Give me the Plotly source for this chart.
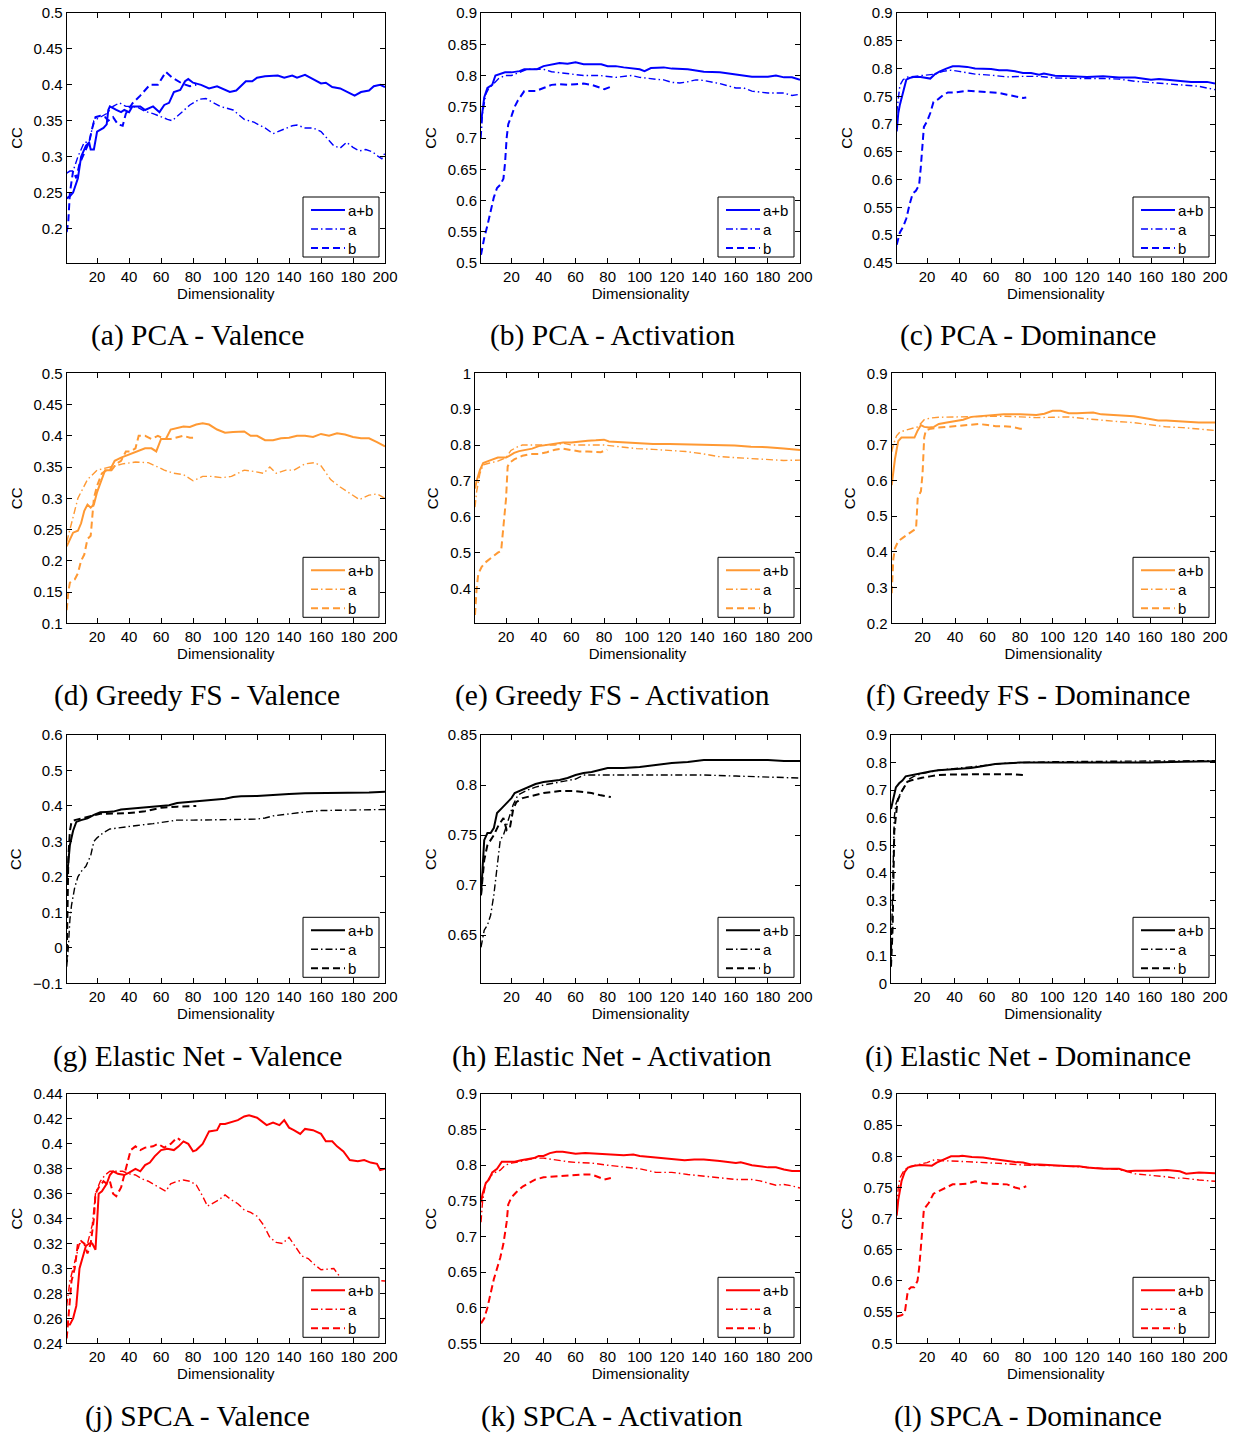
import plotly.graph_objects as go

# ---------------------------------------------------------------------------
# Correlation coefficient (CC) versus dimensionality, (dimensionality, CC)
# pairs for three feature sets: a+b (combined), a, and b.
# ---------------------------------------------------------------------------

# (a) PCA - Valence
pca_val_ab = [(1,0.242),(3,0.245),(5,0.25),(8,0.27),(10,0.30),(13,0.315),(15,0.32),(16,0.31),(18,0.31),(20,0.335),(24,0.34),(26,0.345),(27,0.365),(28,0.37),(32,0.365),(35,0.362),(37,0.365),(40,0.362),(42,0.37),(47,0.37),(50,0.365),(55,0.37),(59,0.362),(62,0.372),(65,0.375),(68,0.39),(72,0.393),(75,0.405),(77,0.408),(80,0.403),(85,0.40),(90,0.395),(95,0.398),(100,0.393),(103,0.39),(107,0.392),(110,0.398),(113,0.405),(117,0.405),(120,0.41),(125,0.412),(130,0.413),(133,0.413),(137,0.41),(142,0.413),(145,0.41),(150,0.414),(155,0.408),(160,0.402),(163,0.403),(167,0.397),(172,0.395),(177,0.39),(181,0.385),(185,0.39),(190,0.392),(193,0.398),(197,0.40),(200,0.397)]
pca_val_a = [(1,0.277),(3,0.28),(5,0.28),(8,0.30),(12,0.32),(15,0.32),(18,0.35),(22,0.355),(26,0.36),(30,0.37),(34,0.375),(38,0.37),(42,0.37),(46,0.368),(50,0.363),(55,0.36),(60,0.355),(64,0.352),(67,0.35),(72,0.36),(78,0.372),(84,0.38),(88,0.381),(92,0.376),(97,0.37),(105,0.365),(112,0.352),(118,0.348),(125,0.34),(130,0.332),(135,0.337),(142,0.343),(145,0.344),(150,0.34),(155,0.34),(160,0.335),(164,0.325),(168,0.315),(172,0.312),(176,0.32),(180,0.313),(184,0.308),(188,0.31),(192,0.307),(196,0.30),(198,0.297),(200,0.305)]
pca_val_b = [(1,0.195),(2,0.21),(3,0.25),(5,0.28),(7,0.27),(9,0.29),(11,0.30),(13,0.31),(15,0.32),(17,0.34),(19,0.355),(22,0.357),(25,0.355),(27,0.35),(30,0.355),(33,0.345),(36,0.343),(38,0.36),(42,0.374),(47,0.385),(53,0.40),(58,0.40),(63,0.418),(67,0.41),(73,0.402),(78,0.398),(82,0.40)]

# (b) PCA - Activation
pca_act_ab = [(1,0.724),(2,0.745),(3,0.765),(5,0.78),(8,0.785),(10,0.80),(13,0.803),(16,0.805),(20,0.805),(25,0.807),(28,0.81),(32,0.81),(36,0.81),(40,0.815),(45,0.817),(50,0.82),(55,0.819),(60,0.821),(65,0.818),(70,0.818),(76,0.818),(80,0.815),(85,0.815),(90,0.813),(95,0.812),(100,0.81),(103,0.807),(107,0.812),(115,0.813),(120,0.811),(130,0.81),(140,0.806),(150,0.805),(160,0.802),(165,0.80),(170,0.798),(180,0.798),(185,0.80),(190,0.797),(195,0.797),(200,0.793)]
pca_act_a = [(1,0.70),(2,0.74),(4,0.77),(6,0.78),(9,0.787),(12,0.795),(16,0.80),(20,0.80),(25,0.805),(30,0.81),(35,0.81),(40,0.81),(45,0.806),(55,0.803),(65,0.80),(75,0.80),(85,0.797),(95,0.80),(100,0.797),(110,0.794),(115,0.793),(120,0.789),(125,0.788),(130,0.79),(135,0.793),(140,0.792),(150,0.787),(160,0.78),(165,0.78),(170,0.775),(180,0.772),(190,0.772),(195,0.768),(200,0.77)]
pca_act_b = [(1,0.513),(3,0.54),(5,0.56),(7,0.585),(9,0.605),(11,0.62),(13,0.625),(15,0.635),(16,0.66),(17,0.70),(18,0.722),(20,0.735),(22,0.75),(24,0.76),(26,0.768),(28,0.775),(32,0.775),(35,0.775),(40,0.78),(45,0.785),(50,0.786),(55,0.785),(60,0.786),(65,0.787),(70,0.785),(75,0.78),(78,0.778),(82,0.782)]

# (c) PCA - Dominance
pca_dom_ab = [(1,0.687),(2,0.72),(3,0.735),(5,0.76),(7,0.78),(9,0.783),(12,0.785),(16,0.785),(20,0.783),(22,0.782),(25,0.79),(28,0.795),(32,0.80),(36,0.804),(40,0.804),(45,0.803),(50,0.80),(55,0.80),(60,0.799),(65,0.797),(70,0.797),(75,0.795),(80,0.792),(85,0.792),(90,0.789),(93,0.791),(100,0.787),(110,0.786),(120,0.785),(130,0.786),(140,0.784),(150,0.784),(160,0.78),(165,0.781),(170,0.78),(180,0.778),(185,0.776),(195,0.776),(200,0.773)]
pca_dom_a = [(1,0.72),(2,0.75),(3,0.77),(5,0.78),(8,0.785),(12,0.786),(16,0.787),(20,0.788),(25,0.79),(30,0.795),(35,0.797),(40,0.795),(50,0.79),(60,0.788),(65,0.786),(70,0.785),(80,0.786),(90,0.786),(100,0.783),(110,0.782),(120,0.782),(130,0.782),(140,0.781),(150,0.777),(160,0.775),(170,0.772),(180,0.77),(190,0.768),(200,0.762)]
pca_dom_b = [(1,0.483),(3,0.505),(5,0.515),(7,0.53),(9,0.555),(11,0.575),(13,0.58),(15,0.59),(16,0.62),(17,0.66),(18,0.695),(20,0.705),(22,0.72),(24,0.74),(27,0.745),(30,0.752),(33,0.757),(38,0.757),(45,0.76),(50,0.759),(55,0.758),(60,0.757),(65,0.756),(70,0.753),(75,0.75),(80,0.747),(82,0.748)]

# (d) Greedy FS - Valence
gfs_val_ab = [(1,0.223),(3,0.235),(5,0.245),(8,0.248),(10,0.26),(12,0.28),(14,0.29),(16,0.285),(18,0.29),(20,0.31),(22,0.325),(25,0.345),(28,0.345),(31,0.36),(35,0.365),(40,0.37),(45,0.375),(50,0.38),(54,0.38),(57,0.375),(60,0.395),(63,0.395),(66,0.41),(70,0.412),(74,0.415),(78,0.414),(82,0.418),(86,0.42),(90,0.418),(95,0.41),(100,0.405),(105,0.406),(112,0.407),(116,0.40),(120,0.40),(125,0.393),(130,0.393),(135,0.396),(140,0.397),(145,0.40),(150,0.40),(155,0.398),(160,0.403),(165,0.40),(170,0.404),(175,0.402),(180,0.398),(185,0.396),(190,0.396),(195,0.39),(200,0.383)]
gfs_val_a = [(1,0.23),(3,0.25),(5,0.27),(8,0.30),(11,0.315),(14,0.33),(20,0.345),(28,0.35),(36,0.355),(44,0.358),(52,0.357),(58,0.35),(62,0.345),(68,0.34),(74,0.338),(80,0.328),(86,0.335),(92,0.335),(98,0.333),(104,0.335),(112,0.345),(118,0.343),(124,0.34),(128,0.35),(132,0.34),(138,0.345),(143,0.345),(150,0.355),(156,0.357),(160,0.352),(166,0.33),(172,0.318),(180,0.305),(184,0.298),(190,0.305),(195,0.307),(200,0.30)]
gfs_val_b = [(1,0.121),(2,0.15),(3,0.165),(6,0.17),(8,0.18),(10,0.20),(12,0.21),(14,0.235),(16,0.24),(17,0.27),(18,0.30),(20,0.32),(23,0.34),(26,0.345),(29,0.345),(32,0.355),(35,0.36),(38,0.375),(41,0.375),(44,0.38),(46,0.40),(50,0.40),(54,0.395),(58,0.40),(62,0.395),(66,0.395),(70,0.397),(74,0.40),(78,0.397),(82,0.397)]

# (e) Greedy FS - Activation
gfs_act_ab = [(1,0.679),(2,0.70),(4,0.73),(6,0.75),(9,0.755),(12,0.76),(15,0.765),(18,0.765),(20,0.765),(22,0.77),(25,0.778),(28,0.783),(32,0.787),(36,0.79),(40,0.797),(45,0.80),(50,0.803),(55,0.807),(60,0.807),(65,0.81),(70,0.812),(75,0.813),(80,0.815),(83,0.81),(90,0.808),(100,0.805),(110,0.803),(120,0.803),(130,0.802),(140,0.802),(150,0.80),(160,0.799),(170,0.795),(180,0.794),(190,0.79),(200,0.786)]
gfs_act_a = [(1,0.627),(2,0.67),(4,0.72),(6,0.745),(10,0.75),(15,0.755),(20,0.765),(23,0.785),(27,0.795),(30,0.80),(35,0.80),(40,0.80),(50,0.80),(55,0.805),(60,0.80),(70,0.80),(80,0.80),(90,0.795),(100,0.79),(110,0.788),(120,0.785),(130,0.782),(140,0.776),(150,0.768),(160,0.765),(170,0.762),(180,0.758),(190,0.757),(200,0.758)]
gfs_act_b = [(1,0.326),(2,0.40),(3,0.44),(5,0.46),(8,0.475),(12,0.49),(15,0.50),(17,0.505),(18,0.55),(19,0.60),(20,0.65),(21,0.74),(22,0.75),(25,0.76),(30,0.77),(35,0.775),(40,0.775),(45,0.78),(50,0.787),(55,0.79),(60,0.785),(65,0.782),(70,0.782),(75,0.78),(78,0.78),(82,0.787)]

# (f) Greedy FS - Dominance
gfs_dom_ab = [(1,0.587),(2,0.62),(3,0.66),(5,0.71),(7,0.72),(10,0.72),(13,0.72),(15,0.72),(17,0.74),(19,0.755),(21,0.75),(24,0.748),(27,0.75),(30,0.758),(35,0.762),(40,0.765),(45,0.77),(50,0.778),(55,0.78),(60,0.782),(65,0.785),(70,0.785),(80,0.785),(90,0.783),(95,0.787),(100,0.795),(105,0.795),(110,0.788),(115,0.788),(120,0.79),(125,0.79),(130,0.785),(140,0.783),(150,0.78),(160,0.772),(165,0.768),(170,0.768),(180,0.765),(190,0.762),(200,0.762)]
gfs_dom_a = [(1,0.68),(2,0.70),(4,0.725),(6,0.735),(9,0.74),(13,0.745),(17,0.75),(21,0.77),(25,0.775),(30,0.777),(40,0.778),(50,0.778),(60,0.78),(70,0.78),(80,0.778),(90,0.776),(100,0.777),(110,0.778),(120,0.773),(130,0.768),(140,0.765),(150,0.762),(160,0.757),(170,0.75),(180,0.748),(190,0.745),(200,0.74)]
gfs_dom_b = [(1,0.284),(2,0.38),(3,0.41),(5,0.43),(8,0.44),(11,0.45),(14,0.46),(16,0.465),(17,0.55),(19,0.57),(20,0.62),(21,0.72),(22,0.74),(25,0.745),(30,0.748),(35,0.75),(40,0.752),(45,0.755),(50,0.757),(55,0.758),(60,0.755),(65,0.752),(70,0.752),(75,0.75),(80,0.745),(82,0.745)]

# (g) Elastic Net - Valence
en_val_ab = [(1,0.191),(2,0.25),(3,0.29),(5,0.33),(7,0.355),(10,0.36),(14,0.365),(18,0.375),(22,0.382),(26,0.383),(30,0.384),(35,0.39),(40,0.392),(50,0.395),(55,0.398),(60,0.40),(65,0.402),(70,0.408),(80,0.412),(90,0.415),(100,0.42),(105,0.425),(110,0.427),(120,0.428),(130,0.432),(140,0.434),(150,0.436),(160,0.436),(170,0.437),(180,0.438),(190,0.438),(200,0.44)]
en_val_a = [(1,-0.053),(2,0.0),(3,0.08),(4,0.12),(6,0.17),(8,0.20),(10,0.215),(13,0.23),(16,0.26),(18,0.30),(20,0.31),(24,0.325),(28,0.335),(35,0.34),(45,0.345),(55,0.35),(60,0.353),(65,0.357),(70,0.36),(80,0.36),(90,0.36),(100,0.36),(110,0.362),(120,0.363),(125,0.366),(130,0.372),(140,0.378),(150,0.383),(160,0.387),(170,0.388),(180,0.39),(190,0.39),(200,0.39)]
en_val_b = [(1,-0.04),(2,0.25),(3,0.33),(4,0.355),(6,0.36),(10,0.365),(14,0.37),(18,0.375),(22,0.378),(26,0.378),(30,0.378),(40,0.38),(50,0.385),(55,0.39),(60,0.395),(70,0.398),(80,0.40),(82,0.40)]

# (h) Elastic Net - Activation
en_act_ab = [(1,0.69),(2,0.72),(3,0.745),(5,0.752),(7,0.752),(9,0.757),(11,0.772),(14,0.777),(17,0.782),(20,0.787),(22,0.792),(26,0.795),(30,0.798),(35,0.801),(40,0.803),(45,0.804),(50,0.805),(55,0.807),(60,0.81),(65,0.812),(70,0.813),(75,0.815),(80,0.817),(90,0.817),(100,0.818),(110,0.82),(120,0.822),(130,0.823),(140,0.825),(150,0.825),(160,0.825),(170,0.825),(180,0.825),(190,0.824),(200,0.824)]
en_act_a = [(1,0.638),(3,0.655),(5,0.66),(7,0.67),(9,0.69),(11,0.72),(13,0.745),(15,0.75),(17,0.76),(19,0.77),(21,0.78),(24,0.79),(30,0.795),(35,0.798),(40,0.80),(50,0.803),(60,0.806),(65,0.81),(70,0.81),(80,0.81),(100,0.81),(120,0.81),(140,0.81),(160,0.809),(180,0.808),(200,0.807)]
en_act_b = [(1,0.69),(2,0.71),(3,0.725),(5,0.74),(7,0.745),(9,0.75),(12,0.76),(15,0.767),(17,0.755),(19,0.757),(21,0.775),(23,0.783),(27,0.787),(30,0.788),(35,0.79),(40,0.792),(50,0.794),(60,0.794),(70,0.792),(75,0.79),(82,0.788)]

# (i) Elastic Net - Dominance
en_dom_ab = [(1,0.632),(2,0.66),(3,0.69),(4,0.71),(6,0.725),(8,0.735),(10,0.75),(14,0.755),(20,0.762),(25,0.768),(30,0.772),(40,0.775),(50,0.78),(55,0.785),(60,0.79),(65,0.795),(70,0.797),(80,0.80),(90,0.80),(100,0.80),(120,0.80),(140,0.80),(160,0.80),(180,0.803),(200,0.805)]
en_dom_a = [(1,0.07),(2,0.30),(3,0.60),(4,0.65),(6,0.68),(8,0.70),(10,0.72),(12,0.74),(15,0.75),(20,0.76),(30,0.772),(40,0.778),(50,0.783),(60,0.79),(70,0.797),(80,0.80),(100,0.803),(140,0.805),(200,0.807)]
en_dom_b = [(1,0.06),(2,0.20),(3,0.55),(4,0.62),(5,0.66),(7,0.69),(9,0.71),(11,0.73),(13,0.735),(16,0.74),(20,0.745),(25,0.75),(30,0.755),(40,0.757),(50,0.758),(60,0.758),(70,0.758),(75,0.758),(82,0.755)]

# (j) SPCA - Valence
spca_val_ab = [(1,0.255),(3,0.255),(5,0.26),(7,0.27),(9,0.30),(11,0.31),(13,0.318),(15,0.32),(17,0.32),(19,0.315),(21,0.36),(23,0.362),(26,0.368),(28,0.375),(30,0.378),(33,0.376),(37,0.375),(40,0.377),(44,0.38),(47,0.378),(50,0.383),(53,0.385),(56,0.39),(60,0.395),(64,0.396),(68,0.395),(71,0.398),(74,0.402),(77,0.40),(80,0.394),(82,0.395),(86,0.40),(90,0.41),(95,0.411),(97,0.416),(100,0.416),(105,0.418),(108,0.419),(112,0.422),(115,0.423),(120,0.421),(123,0.418),(126,0.415),(130,0.417),(134,0.415),(137,0.419),(140,0.413),(143,0.411),(147,0.408),(150,0.412),(155,0.411),(160,0.408),(163,0.402),(167,0.402),(170,0.398),(174,0.394),(178,0.387),(183,0.386),(187,0.387),(191,0.385),(195,0.384),(197,0.379),(200,0.38)]
spca_val_a = [(1,0.27),(3,0.29),(5,0.30),(7,0.31),(9,0.32),(11,0.32),(14,0.32),(17,0.335),(19,0.36),(22,0.37),(25,0.375),(28,0.378),(32,0.378),(36,0.378),(40,0.376),(44,0.375),(48,0.372),(52,0.37),(56,0.367),(60,0.364),(63,0.362),(66,0.368),(70,0.37),(74,0.371),(78,0.37),(82,0.367),(86,0.358),(89,0.35),(92,0.352),(96,0.355),(100,0.359),(104,0.355),(108,0.352),(112,0.347),(116,0.345),(120,0.342),(124,0.335),(128,0.325),(132,0.321),(136,0.32),(140,0.325),(144,0.318),(148,0.31),(152,0.308),(156,0.303),(160,0.299),(165,0.30),(168,0.30),(172,0.293),(176,0.288),(180,0.29),(190,0.291),(200,0.29)]
spca_val_b = [(1,0.244),(2,0.26),(3,0.28),(4,0.29),(6,0.30),(8,0.32),(10,0.322),(12,0.32),(14,0.312),(16,0.32),(18,0.34),(19,0.36),(21,0.365),(24,0.37),(26,0.368),(28,0.37),(30,0.36),(32,0.358),(35,0.365),(38,0.38),(41,0.395),(44,0.398),(47,0.395),(50,0.397),(55,0.398),(58,0.40),(62,0.397),(66,0.40),(70,0.405),(72,0.403)]

# (k) SPCA - Activation
spca_act_ab = [(1,0.748),(2,0.76),(4,0.775),(6,0.78),(8,0.79),(11,0.795),(14,0.805),(18,0.805),(22,0.805),(26,0.807),(30,0.808),(34,0.81),(37,0.813),(40,0.813),(44,0.817),(48,0.819),(52,0.819),(56,0.818),(60,0.816),(66,0.817),(72,0.816),(78,0.815),(84,0.814),(90,0.814),(96,0.815),(100,0.813),(110,0.811),(115,0.81),(120,0.808),(128,0.807),(134,0.808),(140,0.808),(150,0.806),(155,0.805),(160,0.803),(163,0.804),(170,0.80),(180,0.797),(185,0.797),(190,0.794),(195,0.792),(200,0.792)]
spca_act_a = [(1,0.72),(2,0.75),(4,0.775),(7,0.785),(10,0.79),(13,0.793),(16,0.80),(20,0.803),(25,0.805),(30,0.807),(35,0.81),(40,0.81),(45,0.808),(50,0.806),(55,0.805),(60,0.804),(70,0.803),(80,0.80),(90,0.798),(100,0.795),(110,0.79),(120,0.79),(130,0.787),(140,0.785),(150,0.783),(160,0.78),(170,0.78),(175,0.778),(185,0.772),(190,0.773),(195,0.771),(200,0.768)]
spca_act_b = [(1,0.578),(3,0.585),(5,0.60),(7,0.62),(9,0.64),(11,0.655),(13,0.67),(15,0.69),(17,0.72),(18,0.745),(20,0.755),(23,0.762),(27,0.77),(31,0.775),(35,0.78),(40,0.783),(45,0.784),(50,0.785),(55,0.786),(60,0.787),(65,0.787),(70,0.787),(75,0.783),(78,0.78),(82,0.782)]

# (l) SPCA - Dominance
spca_dom_ab = [(1,0.705),(2,0.73),(4,0.76),(6,0.775),(8,0.782),(12,0.785),(16,0.786),(20,0.786),(23,0.785),(26,0.79),(30,0.795),(35,0.80),(40,0.80),(42,0.801),(48,0.799),(55,0.798),(60,0.796),(65,0.794),(70,0.793),(75,0.791),(80,0.79),(85,0.787),(90,0.787),(95,0.786),(100,0.785),(110,0.784),(115,0.784),(120,0.782),(130,0.78),(140,0.78),(145,0.776),(150,0.777),(160,0.777),(170,0.778),(178,0.776),(182,0.772),(190,0.774),(195,0.773),(200,0.773)]
spca_dom_a = [(1,0.72),(2,0.75),(3,0.765),(5,0.775),(8,0.783),(12,0.785),(16,0.787),(20,0.79),(25,0.795),(30,0.793),(40,0.792),(50,0.791),(60,0.79),(70,0.788),(80,0.786),(90,0.786),(100,0.785),(110,0.784),(120,0.782),(130,0.781),(140,0.779),(150,0.772),(160,0.77),(170,0.767),(175,0.765),(180,0.765),(190,0.762),(200,0.76)]
spca_dom_b = [(1,0.543),(4,0.545),(6,0.548),(8,0.585),(10,0.59),(12,0.59),(14,0.60),(15,0.62),(16,0.65),(17,0.69),(18,0.715),(21,0.725),(24,0.74),(28,0.745),(32,0.75),(36,0.755),(40,0.755),(45,0.756),(50,0.76),(55,0.757),(60,0.756),(65,0.755),(70,0.755),(75,0.75),(78,0.748),(82,0.752)]

# Series names, x ticks, y ticks and captions
series_names = ["a+b", "a", "b"]
x_ticks = [20, 40, 60, 80, 100, 120, 140, 160, 180, 200]
y_ticks_val_pca = [0.2, 0.25, 0.3, 0.35, 0.4, 0.45, 0.5]
y_ticks_act_pca = [0.5, 0.55, 0.6, 0.65, 0.7, 0.75, 0.8, 0.85, 0.9]
y_ticks_dom_pca = [0.45, 0.5, 0.55, 0.6, 0.65, 0.7, 0.75, 0.8, 0.85, 0.9]
y_ticks_val_gfs = [0.1, 0.15, 0.2, 0.25, 0.3, 0.35, 0.4, 0.45, 0.5]
y_ticks_act_gfs = [0.4, 0.5, 0.6, 0.7, 0.8, 0.9, 1.0]
y_ticks_dom_gfs = [0.2, 0.3, 0.4, 0.5, 0.6, 0.7, 0.8, 0.9]
y_ticks_val_en = [-0.1, 0, 0.1, 0.2, 0.3, 0.4, 0.5, 0.6]
y_ticks_act_en = [0.65, 0.7, 0.75, 0.8, 0.85]
y_ticks_dom_en = [0, 0.1, 0.2, 0.3, 0.4, 0.5, 0.6, 0.7, 0.8, 0.9]
y_ticks_val_spca = [0.24, 0.26, 0.28, 0.3, 0.32, 0.34, 0.36, 0.38, 0.4, 0.42, 0.44]
y_ticks_act_spca = [0.55, 0.6, 0.65, 0.7, 0.75, 0.8, 0.85, 0.9]
y_ticks_dom_spca = [0.5, 0.55, 0.6, 0.65, 0.7, 0.75, 0.8, 0.85, 0.9]

captions = [
    "(a) PCA - Valence", "(b) PCA - Activation", "(c) PCA - Dominance",
    "(d) Greedy FS - Valence", "(e) Greedy FS - Activation", "(f) Greedy FS - Dominance",
    "(g) Elastic Net - Valence", "(h) Elastic Net - Activation", "(i) Elastic Net - Dominance",
    "(j) SPCA - Valence", "(k) SPCA - Activation", "(l) SPCA - Dominance",
]

# ---------------------------------------------------------------------------
# Panel definitions: (series a+b, a, b), y-limits, y-ticks
# ---------------------------------------------------------------------------
panels = [
    ((pca_val_ab, pca_val_a, pca_val_b), (0.152, 0.5), y_ticks_val_pca),
    ((pca_act_ab, pca_act_a, pca_act_b), (0.5, 0.9), y_ticks_act_pca),
    ((pca_dom_ab, pca_dom_a, pca_dom_b), (0.45, 0.9), y_ticks_dom_pca),
    ((gfs_val_ab, gfs_val_a, gfs_val_b), (0.1, 0.5), y_ticks_val_gfs),
    ((gfs_act_ab, gfs_act_a, gfs_act_b), (0.303, 1.0), y_ticks_act_gfs),
    ((gfs_dom_ab, gfs_dom_a, gfs_dom_b), (0.2, 0.9), y_ticks_dom_gfs),
    ((en_val_ab, en_val_a, en_val_b), (-0.1, 0.6), y_ticks_val_en),
    ((en_act_ab, en_act_a, en_act_b), (0.602, 0.85), y_ticks_act_en),
    ((en_dom_ab, en_dom_a, en_dom_b), (0.0, 0.9), y_ticks_dom_en),
    ((spca_val_ab, spca_val_a, spca_val_b), (0.24, 0.44), y_ticks_val_spca),
    ((spca_act_ab, spca_act_a, spca_act_b), (0.55, 0.9), y_ticks_act_spca),
    ((spca_dom_ab, spca_dom_a, spca_dom_b), (0.5, 0.9), y_ticks_dom_spca),
]

# One colour per method (row)
row_colors = ["#0000ff", "#ff9933", "#000000", "#ff0000"]

# ---------------------------------------------------------------------------
# Figure geometry (pixels)
# ---------------------------------------------------------------------------
W, H = 1240, 1434
axis_left = [66.7, 481, 896.7, 66.7, 475, 891.7, 66.7, 481, 891, 66.7, 481, 896.7]
axis_right = [385, 800, 1215]
row_top = [13, 373.3, 735, 1094]
row_bottom = [263, 623.3, 983.3, 1343.3]
caption_x = [197, 612, 1028]
caption_y = [335, 695, 1056, 1416]

SANS = "Liberation Sans, Arial, sans-serif"
TICK_FONT = dict(family=SANS, size=15, color="black")
LEGEND_FONT = dict(family=SANS, size=15, color="black")
CAPTION_FONT = dict(family="Liberation Serif, Times New Roman, serif", size=29.5, color="black")

# solid, dash-dot, dashed
line_styles = [
    dict(width=2.0, dash="solid"),
    dict(width=1.4, dash="7px,3px,1.5px,3px"),
    dict(width=2.0, dash="7px,4px"),
]

# Legend box (pixels), anchored to the lower-right corner of each axes
LEG_W, LEG_H, LEG_GAP_R, LEG_GAP_B = 76, 60, 6, 6
LEG_ROWS = [13, 32, 51]          # entry centre offsets from box top
LEG_LINE = (8, 42)               # sample line start/end offsets from box left
LEG_TEXT = 43                    # text offset from box left


def px(x):
    return x / W


def py(y):
    return 1 - y / H


fig = go.Figure()
layout = dict(
    width=W, height=H,
    margin=dict(l=0, r=0, t=0, b=0, autoexpand=False),
    paper_bgcolor="white", plot_bgcolor="white",
    showlegend=False,
    annotations=[], shapes=[],
)

for i, (series, yr, yt) in enumerate(panels):
    row, col = divmod(i, 3)
    k = "" if i == 0 else str(i + 1)
    color = row_colors[row]
    left, right = axis_left[i], axis_right[col]
    top, bottom = row_top[row], row_bottom[row]

    for s, name, style in zip(series, series_names, line_styles):
        fig.add_trace(go.Scatter(
            x=[p[0] for p in s], y=[p[1] for p in s], mode="lines", name=name,
            line=dict(color=color, width=style["width"], dash=style["dash"]),
            xaxis="x" + k, yaxis="y" + k,
        ))

    common = dict(
        showline=True, linecolor="black", linewidth=1, mirror="ticks",
        ticks="inside", ticklen=5, tickwidth=1, tickcolor="black",
        showgrid=False, zeroline=False, tickfont=TICK_FONT, automargin=False,
    )
    layout["xaxis" + k] = dict(
        common, domain=[px(left), px(right)], anchor="y" + k,
        range=[1, 200], tickmode="array", tickvals=x_ticks,
        ticktext=[str(v) for v in x_ticks],
        title=dict(text="Dimensionality", font=TICK_FONT, standoff=0),
    )
    layout["yaxis" + k] = dict(
        common, domain=[py(bottom), py(top)], anchor="x" + k,
        range=list(yr), tickmode="array", tickvals=yt,
        ticktext=[("%g" % v).replace("-", "\u2212") for v in yt],
        title=dict(text="CC", font=TICK_FONT, standoff=7),
    )

    # legend: framed box with a line sample and label per series
    bx1 = right - LEG_GAP_R
    bx0 = bx1 - LEG_W
    by1 = bottom - LEG_GAP_B
    by0 = by1 - LEG_H
    layout["shapes"].append(dict(
        type="rect", xref="paper", yref="paper",
        x0=px(bx0), x1=px(bx1), y0=py(by1), y1=py(by0),
        line=dict(color="black", width=1), fillcolor="white", layer="above",
    ))
    for name, style, off in zip(series_names, line_styles, LEG_ROWS):
        yy = py(by0 + off)
        layout["shapes"].append(dict(
            type="line", xref="paper", yref="paper",
            x0=px(bx0 + LEG_LINE[0]), x1=px(bx0 + LEG_LINE[1]), y0=yy, y1=yy,
            line=dict(color=color, width=style["width"], dash=style["dash"]),
            layer="above",
        ))
        layout["annotations"].append(dict(
            text=name, xref="paper", yref="paper", x=px(bx0 + LEG_TEXT), y=yy,
            xanchor="left", yanchor="middle", showarrow=False, font=LEGEND_FONT,
        ))

    layout["annotations"].append(dict(
        text=captions[i], xref="paper", yref="paper",
        x=px(caption_x[col]), y=py(caption_y[row]),
        xanchor="center", yanchor="middle", showarrow=False, font=CAPTION_FONT,
    ))

fig.update_layout(**layout)
fig.write_html("out.html")
